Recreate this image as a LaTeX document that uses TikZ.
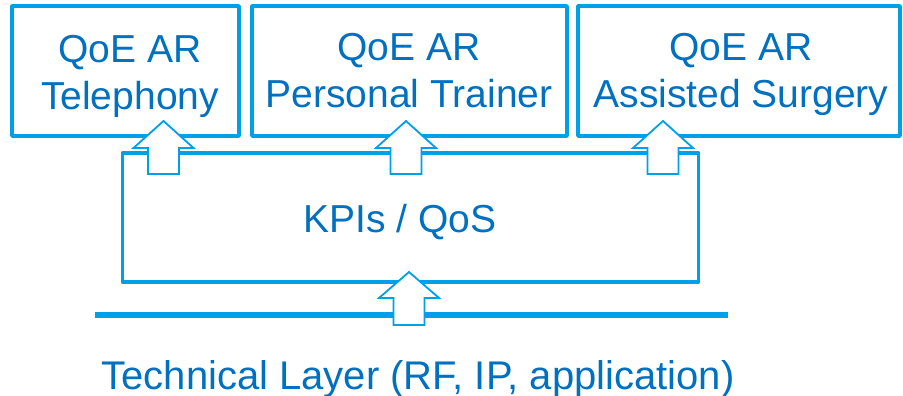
\documentclass[tikz,border=0pt]{standalone}
\usepackage{fontspec}
\setmainfont{Liberation Sans}
\definecolor{bordblue}{HTML}{00A0E9}
\definecolor{txtblue}{HTML}{0070C0}
\begin{document}
\begin{tikzpicture}[x=1pt,y=-1pt,
  qbox/.style={draw=bordblue, line width=3.5pt, rectangle, inner sep=0pt, line join=round},
  lbl/.style={text=txtblue, font=\fontsize{39}{47}\selectfont, align=center, inner sep=0pt},
  barrow/.style={draw=bordblue, fill=white, line width=1.8pt, line join=miter}
]
\useasboundingbox (0,0) rectangle (903,396);
% top boxes
\node[qbox, minimum width=227pt, minimum height=130pt] (tel) at (125.5,71) {};
\node[qbox, minimum width=315pt, minimum height=130pt] (trn) at (409.5,71) {};
\node[qbox, minimum width=322pt, minimum height=130pt] (srg) at (739,71) {};
% KPI box
\node[qbox, minimum width=576pt, minimum height=129pt] (kpi) at (410.5,217.5) {};
% technical layer line
\coordinate (lineL) at (95,315);
\coordinate (lineR) at (728,315);
\draw[bordblue, line width=6pt] (lineL) -- (lineR);
% block arrows
\coordinate (a1) at (163.5,121);
\coordinate (a2) at (406,121);
\coordinate (a3) at (663,121);
\coordinate (a4) at (409,272);
\foreach \t in {a1,a2,a3}{
  \draw[barrow] (\t) -- ++(30,27) -- ++(-14.5,0) -- ++(0,26) -- ++(-31,0) -- ++(0,-26) -- ++(-14.5,0) -- cycle;
}
\draw[barrow] (a4) -- ++(30,26) -- ++(-14.5,0) -- ++(0,27) -- ++(-31,0) -- ++(0,-27) -- ++(-14.5,0) -- cycle;
% labels
\node[lbl, anchor=north] (telT) at (130,35) {QoE AR\\Telephony};
\node[lbl, anchor=north] (trnT) at (409,33) {QoE AR\\Personal Trainer};
\node[lbl, anchor=north] (srgT) at (741,33) {QoE AR\\Assisted Surgery};
\node[lbl, anchor=base] (kpiT) at (400,232) {KPIs / QoS};
\node[lbl, anchor=base, font=\fontsize{40}{47}\selectfont] (techT) at (418,389) {Technical Layer (RF, IP, application)};
\end{tikzpicture}
\end{document}
